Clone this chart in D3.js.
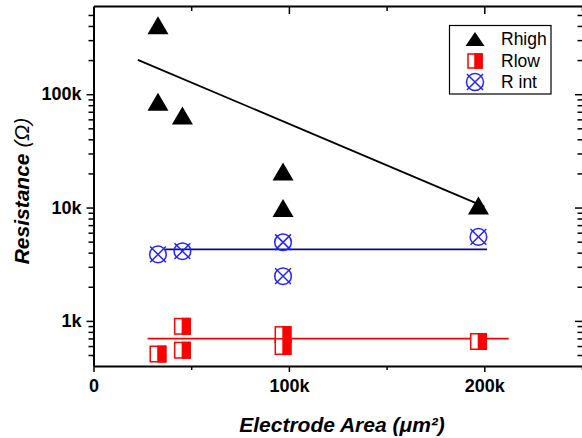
<!DOCTYPE html>
<html>
<head>
<meta charset="utf-8">
<script src="https://cdn.jsdelivr.net/npm/d3@7"></script>
<style>
    body { margin: 0; background: #fff; }
    svg { display: block; font-family: "Liberation Sans", Arial, sans-serif; }
</style>
</head>
<body>
<div class="chart"></div>
<script>
// Rhigh (black triangles)
const rhighArea = [33000, 33000, 45500, 97000, 97000, 197000];
const rhighVal = [405000, 86000, 65000, 20800, 9900, 10400];

// Rlow (red half-filled squares)
const rlowArea = [33000, 45500, 45500, 97000, 97000, 197000];
const rlowVal = [510, 896, 551, 757, 594, 658];

// R int (blue crossed circles)
const rintArea = [33000, 45500, 97000, 97000, 197000];
const rintVal = [3860, 4120, 4940, 2480, 5510];

// fit lines (end points)
const highFitArea = [22700, 200000];
const highFitVal = [201000, 10200];
const lowFitArea = [27700, 212500];
const lowFitVal = [698, 698];
const intFitArea = [36700, 201400];
const intFitVal = [4270, 4270];

// axis ticks
const xMajorTicks = [0, 100000, 200000];
const xMinorTicks = [50000, 150000, 250000];
const xTickLabels = ["0", "100k", "200k"];
const yMajorTicks = [1000, 10000, 100000];
const yTickLabels = ["1k", "10k", "100k"];
const yMinorTicks = [500, 600, 700, 800, 900,
    2000, 3000, 4000, 5000, 6000, 7000, 8000, 9000,
    20000, 30000, 40000, 50000, 60000, 70000, 80000, 90000,
    200000, 300000, 400000, 500000];

const legendNames = ["Rhigh", "Rlow", "R int"];

const W = 582, H = 438;
const plotLeft = 93.5, plotRight = 582, plotTop = 6, plotBottom = 366;

const svg = d3.select(".chart").append("svg")
    .attr("width", W)
    .attr("height", H);

const x = d3.scaleLinear().domain([0, 250000]).range([plotLeft, plotRight]);
const y = d3.scaleLog().domain([400, 600000]).range([plotBottom, plotTop]);

const red = "#ff0000", blue = "#2424ff", navy = "#0c0c80";

// --- axes ---
function styleAxis(g) {
    g.selectAll("path").attr("stroke", "#000").attr("stroke-width", 2);
    g.selectAll("line").attr("stroke", "#000").attr("stroke-width", 1.5);
    g.selectAll("text")
        .attr("fill", "#000")
        .style("font-size", "18px")
        .style("font-weight", "bold")
        .style("font-family", "'Liberation Sans', Arial, sans-serif");
}

// bottom
svg.append("g")
    .attr("transform", `translate(0,${plotBottom})`)
    .call(d3.axisBottom(x).tickValues(xMinorTicks).tickSize(4).tickSizeOuter(0).tickFormat(""))
    .call(styleAxis);
svg.append("g")
    .attr("transform", `translate(0,${plotBottom})`)
    .call(d3.axisBottom(x).tickValues(xMajorTicks).tickSize(6).tickPadding(7).tickSizeOuter(0)
        .tickFormat((d, i) => xTickLabels[i]))
    .call(styleAxis)
    .call(g => g.select(".domain").remove());

// top
svg.append("g")
    .attr("transform", `translate(0,${plotTop})`)
    .call(d3.axisTop(x).tickValues(xMinorTicks).tickSize(-5).tickSizeOuter(0).tickFormat(""))
    .call(styleAxis);
svg.append("g")
    .attr("transform", `translate(0,${plotTop})`)
    .call(d3.axisTop(x).tickValues(xMajorTicks.slice(1)).tickSize(-8).tickSizeOuter(0).tickFormat(""))
    .call(styleAxis)
    .call(g => g.select(".domain").remove());

// left
svg.append("g")
    .attr("transform", `translate(${plotLeft},0)`)
    .call(d3.axisLeft(y).tickValues(yMinorTicks).tickSize(5).tickSizeOuter(0).tickFormat(""))
    .call(styleAxis);
svg.append("g")
    .attr("transform", `translate(${plotLeft},0)`)
    .call(d3.axisLeft(y).tickValues(yMajorTicks).tickSize(7).tickPadding(5).tickSizeOuter(0)
        .tickFormat((d, i) => yTickLabels[i]))
    .call(styleAxis)
    .call(g => g.select(".domain").remove());

// right (ticks only, pointing inward)
svg.append("g")
    .attr("transform", `translate(${plotRight},0)`)
    .call(d3.axisRight(y).tickValues(yMinorTicks).tickSize(-4.5).tickSizeOuter(0).tickFormat(""))
    .call(styleAxis)
    .call(g => g.select(".domain").remove());
svg.append("g")
    .attr("transform", `translate(${plotRight},0)`)
    .call(d3.axisRight(y).tickValues(yMajorTicks).tickSize(-7).tickSizeOuter(0).tickFormat(""))
    .call(styleAxis)
    .call(g => g.select(".domain").remove());

// --- fit lines ---
const line = d3.line().x(d => x(d[0])).y(d => y(d[1]));

svg.append("path")
    .datum(d3.zip(highFitArea, highFitVal))
    .attr("fill", "none").attr("stroke", "#000").attr("stroke-width", 1.8)
    .attr("d", line);
svg.append("path")
    .datum(d3.zip(intFitArea, intFitVal))
    .attr("fill", "none").attr("stroke", navy).attr("stroke-width", 1.8)
    .attr("d", line);
svg.append("path")
    .datum(d3.zip(lowFitArea, lowFitVal))
    .attr("fill", "none").attr("stroke", red).attr("stroke-width", 1.8)
    .attr("d", line);

// --- marker drawers ---
function drawTriangle(g, w, h) {
    g.append("path")
        .attr("d", `M0,${-h / 2}L${w / 2},${h / 2}L${-w / 2},${h / 2}Z`)
        .attr("fill", "#000");
}

function drawHalfSquare(g, s) {
    g.append("rect")
        .attr("x", -s / 2).attr("y", -s / 2).attr("width", s).attr("height", s)
        .attr("fill", "#fff").attr("stroke", red).attr("stroke-width", 1.5);
    g.append("rect")
        .attr("x", 0).attr("y", -s / 2).attr("width", s / 2).attr("height", s)
        .attr("fill", red).attr("stroke", red).attr("stroke-width", 1.5);
}

function drawCrossCircle(g, r) {
    const k = r * 0.95;
    g.append("circle")
        .attr("r", r).attr("fill", "none").attr("stroke", blue).attr("stroke-width", 1.5);
    g.append("path")
        .attr("d", `M${-k},${-k}L${k},${k}M${k},${-k}L${-k},${k}`)
        .attr("stroke", blue).attr("stroke-width", 1.5);
}

// --- points ---
svg.selectAll(".rint")
    .data(d3.zip(rintArea, rintVal))
    .enter().append("g")
    .attr("class", "rint")
    .attr("transform", d => `translate(${x(d[0])},${y(d[1])})`)
    .each(function() { drawCrossCircle(d3.select(this), 8.3); });

svg.selectAll(".rlow")
    .data(d3.zip(rlowArea, rlowVal))
    .enter().append("g")
    .attr("class", "rlow")
    .attr("transform", d => `translate(${x(d[0])},${y(d[1])})`)
    .each(function() { drawHalfSquare(d3.select(this), 15.5); });

svg.selectAll(".rhigh")
    .data(d3.zip(rhighArea, rhighVal))
    .enter().append("g")
    .attr("class", "rhigh")
    .attr("transform", d => `translate(${x(d[0])},${y(d[1])})`)
    .each(function() { drawTriangle(d3.select(this), 21, 18); });

// --- legend ---
const legend = svg.append("g");
legend.append("rect")
    .attr("x", 449.5).attr("y", 25.5).attr("width", 101.5).attr("height", 68.5)
    .attr("fill", "#fff").attr("stroke", "#000").attr("stroke-width", 1.2);

const legendY = [39, 61, 82];
const drawers = [
    g => drawTriangle(g, 19, 14),
    g => drawHalfSquare(g, 14),
    g => drawCrossCircle(g, 8.5)
];
legendNames.forEach((name, i) => {
    const g = legend.append("g").attr("transform", `translate(475,${legendY[i]})`);
    drawers[i](g);
    legend.append("text")
        .attr("x", 501)
        .attr("y", legendY[i] + 6)
        .style("font-size", "17.5px")
        .attr("fill", "#000")
        .text(name);
});

// --- axis titles ---
svg.append("text")
    .attr("x", 342)
    .attr("y", 432)
    .attr("text-anchor", "middle")
    .style("font-size", "21px")
    .style("font-weight", "bold")
    .style("font-style", "italic")
    .text("Electrode Area (μm²)");

const yTitle = svg.append("text")
    .attr("transform", "translate(29,191) rotate(-90)")
    .attr("text-anchor", "middle")
    .style("font-size", "21px")
    .style("font-style", "italic");
yTitle.append("tspan").style("font-weight", "bold").text("Resistance");
yTitle.append("tspan").style("font-weight", "normal").text(" (Ω)");
</script>
</body>
</html>
